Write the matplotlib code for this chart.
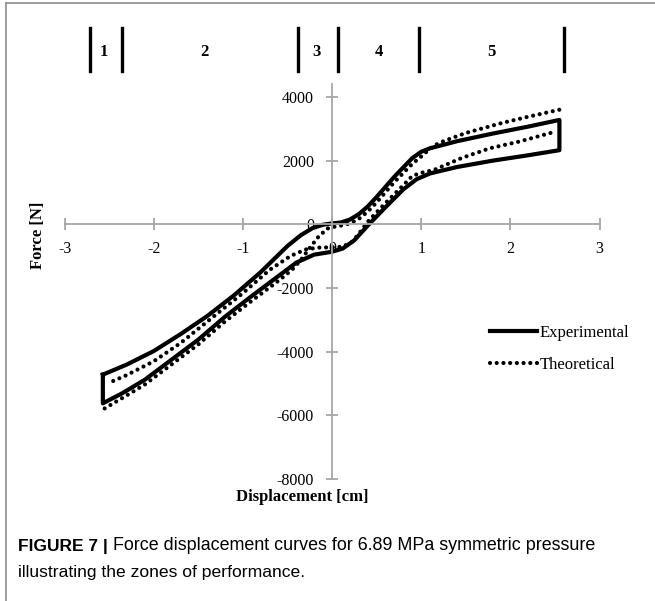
import matplotlib.pyplot as plt
import matplotlib.transforms as mtransforms
from matplotlib.lines import Line2D

plt.rcParams['axes.unicode_minus'] = False

# experimental loop: loading branch, then unloading branch (cm, N)
exp_up_x = [-2.57, -2.3, -2.0, -1.7, -1.4, -1.1, -0.8, -0.5, -0.35, -0.22, -0.1, 0.0, 0.1, 0.2, 0.3, 0.4, 0.5, 0.7, 0.9, 1.0, 1.1, 1.4, 1.8, 2.2, 2.55]
exp_up_y = [-4720, -4400, -3980, -3450, -2880, -2230, -1500, -680, -340, -120, -10, 30, 60, 150, 320, 560, 860, 1500, 2080, 2280, 2390, 2610, 2850, 3070, 3280]
exp_dn_x = [2.55, 2.55, 2.2, 1.8, 1.4, 1.1, 0.95, 0.8, 0.6, 0.4, 0.25, 0.12, 0.0, -0.2, -0.4, -0.6, -0.9, -1.2, -1.5, -1.8, -2.1, -2.35, -2.57, -2.57]
exp_dn_y = [3280, 2330, 2170, 2000, 1800, 1600, 1420, 1100, 540, -40, -500, -760, -860, -950, -1200, -1620, -2250, -2900, -3620, -4250, -4880, -5300, -5620, -4720]

# theoretical loop: loading branch (below at left, above at right)
th_ld_x = [-2.55, -2.35, -2.1, -1.8, -1.5, -1.2, -0.9, -0.6, -0.45, -0.35, -0.25, -0.15, -0.05, 0.05, 0.12, 0.2, 0.3, 0.4, 0.5, 0.7, 0.9, 1.0, 1.1, 1.2, 1.5, 1.9, 2.2, 2.55]
th_ld_y = [-5780, -5450, -5030, -4400, -3770, -3050, -2400, -1770, -1430, -1120, -740, -380, -130, -60, -30, 30, 170, 400, 690, 1330, 1900, 2130, 2380, 2560, 2870, 3180, 3380, 3600]
# theoretical unloading branch (inner at right and left)
th_ul_x = [2.45, 2.1, 1.77, 1.45, 1.14, 1.0, 0.9, 0.8, 0.7, 0.6, 0.5, 0.4, 0.3, 0.22, 0.12, 0.0, -0.15, -0.3, -0.47, -0.7, -1.0, -1.3, -1.7, -2.0, -2.3, -2.52]
th_ul_y = [2870, 2600, 2390, 2080, 1705, 1620, 1520, 1230, 950, 670, 380, 80, -300, -560, -700, -720, -730, -790, -1000, -1430, -2160, -2830, -3730, -4300, -4730, -5000]

# zones of performance
zone_edges = [-2.71, -2.35, -0.38, 0.07, 0.98, 2.60]
zone_names = ['1', '2', '3', '4', '5']
zone_label_x = [-2.56, -1.43, -0.17, 0.52, 1.79]

fig = plt.figure(figsize=(6.55, 6.01), dpi=100)
ax = fig.add_axes([0.0985, 0.2028, 0.8168, 0.657])

ax.plot(exp_up_x + exp_dn_x, exp_up_y + exp_dn_y, color='black', lw=3.0,
        solid_joinstyle='round', label='Experimental')
dotted = (0, (0.01, 1.6))
ax.plot(th_ld_x, th_ld_y, color='black', lw=3.0, ls=dotted, dash_capstyle='round')
ax.plot(th_ul_x, th_ul_y, color='black', lw=3.0, ls=dotted, dash_capstyle='round')

ax.set_xlim(-3, 3)
ax.set_ylim(-8000, 4400)
ax.set_xticks([-3, -2, -1, 0, 1, 2, 3])
ax.set_yticks([-8000, -6000, -4000, -2000, 0, 2000, 4000])

for side in ['top', 'right']:
    ax.spines[side].set_visible(False)
ax.spines['left'].set_position(('data', 0))
ax.spines['bottom'].set_position(('data', 0))
for side in ['left', 'bottom']:
    ax.spines[side].set_color('#a6a6a6')
    ax.spines[side].set_linewidth(1.3)
ax.tick_params(direction='inout', length=8, width=1.3, color='#a6a6a6',
               labelsize=11.5, labelcolor='black')
ax.tick_params(axis='x', pad=8)
ax.tick_params(axis='y', pad=9)
for lab in ax.get_xticklabels() + ax.get_yticklabels():
    lab.set_fontfamily('Liberation Serif')

fig.text(0.058, 1 - 235 / 601, 'Force [N]', rotation=90, ha='center', va='center',
         family='Liberation Serif', weight='bold', fontsize=12)
fig.text(302 / 655, 1 - 497 / 601, 'Displacement [cm]', ha='center', va='center',
         family='Liberation Serif', weight='bold', fontsize=12)

# zone markers above the plot
trans = mtransforms.blended_transform_factory(ax.transData, fig.transFigure)
for xe in zone_edges:
    ax.plot([xe, xe], [1 - 28 / 601, 1 - 71 / 601], transform=trans, color='black',
            lw=2.4, clip_on=False)
for xl, name in zip(zone_label_x, zone_names):
    ax.text(xl, 1 - 52 / 601, name, transform=trans, ha='center', va='center',
            family='Liberation Serif', weight='bold', fontsize=12)

handles = [Line2D([], [], color='black', lw=3.0),
           Line2D([], [], color='black', lw=3.0, ls=dotted, dash_capstyle='round')]
fig.legend(handles, ['Experimental', 'Theoretical'], loc='upper left',
           bbox_to_anchor=(490 / 655, 1 - 325 / 601), frameon=False, borderpad=0,
           borderaxespad=0, handlelength=2.8, handletextpad=0.2, labelspacing=0.95,
           prop={'family': 'Liberation Serif', 'size': 12})

# page frame and caption
fig.add_artist(Line2D([6 / 655, 6 / 655], [0, 1 - 3 / 601], color='#8c8c8c', lw=1.2))
fig.add_artist(Line2D([6 / 655, 1], [1 - 3 / 601, 1 - 3 / 601], color='#8c8c8c', lw=1.2))

renderer = fig.canvas.get_renderer()
t1 = fig.text(18 / 655, 1 - 546 / 601, 'FIGURE 7 |', family='Liberation Sans',
              weight='bold', fontsize=12.5, va='center')
bb = t1.get_window_extent(renderer)
fig.text(bb.x1 / fig.bbox.width + 5 / 655, 1 - 546 / 601,
         'Force displacement curves for 6.89 MPa symmetric pressure',
         family='Liberation Sans', fontsize=12.9, va='center')
fig.text(18 / 655, 1 - 573 / 601, 'illustrating the zones of performance.',
         family='Liberation Sans', fontsize=12.6, va='center')

fig.savefig('out.png', dpi=100)
